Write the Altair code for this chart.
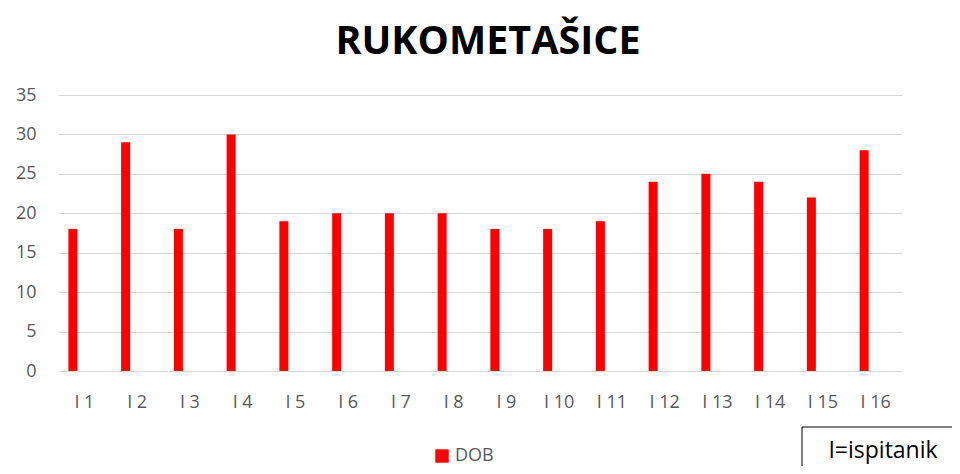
import altair as alt
import pandas as pd

categories = [f"I {i}" for i in range(1, 17)]
values = [18, 29, 18, 30, 19, 20, 20, 20, 18, 18, 19, 24, 25, 24, 22, 28]
series = ["DOB"] * 16

df = pd.DataFrame({"ispitanik": categories, "DOB": values, "serija": series})

FONT = "Open Sans"
GRAY = "#595959"

bars = alt.Chart(df).mark_bar(width=9, xOffset=-11.5, color="#ff0000").encode(
    x=alt.X("ispitanik:N", sort=categories,
            scale=alt.Scale(paddingInner=0, paddingOuter=0),
            axis=alt.Axis(title=None, labelAngle=0, ticks=False, domain=True,
                          domainColor="#d9d9d9", labelColor=GRAY, labelFont=FONT,
                          labelFontSize=18, labelPadding=22)),
    y=alt.Y("DOB:Q", scale=alt.Scale(domain=[0, 35]),
            axis=alt.Axis(title=None, values=[0, 5, 10, 15, 20, 25, 30, 35],
                          ticks=False, domain=False, gridColor="#d9d9d9",
                          labelColor=GRAY, labelFont=FONT, labelFontSize=18,
                          labelPadding=22)),
    fill=alt.Color("serija:N", scale=alt.Scale(range=["#ff0000"]),
                   legend=alt.Legend(title=None, orient="none", legendX=375, legendY=352,
                                     symbolType="square", symbolSize=180,
                                     labelFont=FONT, labelFontSize=18, labelColor=GRAY)),
)

note = pd.DataFrame({"t": ["I=ispitanik"]})
box = alt.Chart(note).mark_rect(fill="white", stroke="black", strokeWidth=1).encode(
    x=alt.value(744), x2=alt.value(1000), y=alt.value(332), y2=alt.value(420)
)
box_text = alt.Chart(note).mark_text(font=FONT, fontSize=23, color="black",
                                     align="center", baseline="middle").encode(
    x=alt.value(825), y=alt.value(356), text="t:N"
)

chart = alt.layer(bars, box, box_text).properties(
    width=844, height=276,
    title=alt.TitleParams("RUKOMETAŠICE", font=FONT, fontSize=39.5, fontWeight="bold",
                          color="black", dx=8, offset=24),
    autosize=alt.AutoSizeParams(type="none"),
    padding={"left": 50, "top": 87, "right": 50, "bottom": 95},
).configure_view(stroke=None)

chart.save("out.html", embed_options={"renderer": "svg", "actions": False})
